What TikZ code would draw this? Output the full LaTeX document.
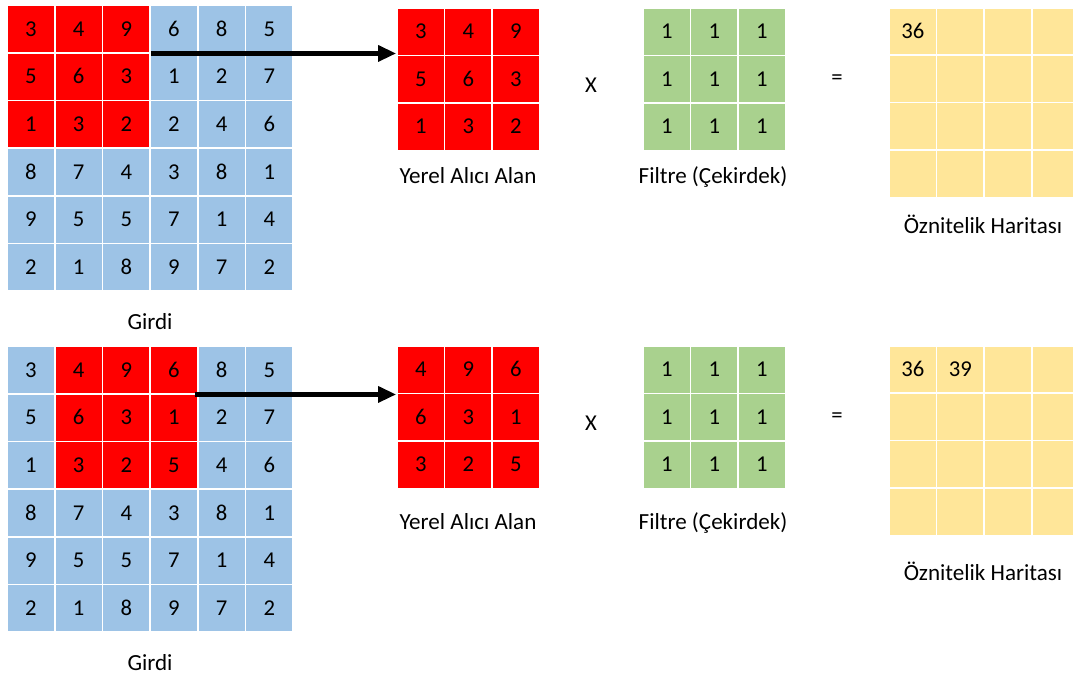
\documentclass[tikz,border=0pt]{standalone}
\usepackage{fontspec}
\setmainfont{Carlito}
\usetikzlibrary{arrows.meta}
\definecolor{cblue}{HTML}{9DC3E6}
\definecolor{cred}{HTML}{FF0000}
\definecolor{cgreen}{HTML}{A9D18E}
\definecolor{cyellow}{HTML}{FFE699}
\tikzset{
  cell/.style={draw=white, line width=1.2pt, minimum width=35.7pt, minimum height=35.7pt,
    inner sep=0pt, anchor=center, text height=10.8pt, text depth=0pt, font=\fontsize{17}{20}\selectfont},
  lbl/.style={anchor=base, inner sep=0pt, font=\fontsize{17.3}{20}\selectfont},
  op/.style={anchor=center, inner sep=0pt, font=\fontsize{17}{20}\selectfont},
  num/.style={anchor=center, inner sep=0pt, text height=10.8pt, text depth=0pt, font=\fontsize{17}{20}\selectfont},
  arr/.style={line width=3.2pt, -{Triangle[length=13.5pt,width=11.7pt]}},
}
\begin{document}
\begin{tikzpicture}[x=0.75pt,y=-0.75pt]
\useasboundingbox (0,0) rectangle (1073,679);
\clip (0,0) rectangle (1073,679);
% ---------- top row ----------
% input grid
\foreach \line [count=\r from 0] in {{3,4,9,6,8,5},{5,6,3,1,2,7},{1,3,2,2,4,6},{8,7,4,3,8,1},{9,5,5,7,1,4},{2,1,8,9,7,2}}{
  \foreach \v [count=\c from 0] in \line {
    \pgfmathtruncatemacro\isred{(\r<3)&&(\c<3)}
    \ifnum\isred=1 \def\fc{cred}\else\def\fc{cblue}\fi
    \node[cell, fill=\fc] (a-\r-\c) at ({7+47.7*(\c+0.5)},{5+47.7*(\r+0.5)}) {\v};
  }
}
% receptive field
\foreach \line [count=\r from 0] in {{3,4,9},{5,6,3},{1,3,2}}{
  \foreach \v [count=\c from 0] in \line {
    \node[cell, fill=cred] (ra-\r-\c) at ({397+47.5*(\c+0.5)},{8+47.5*(\r+0.5)}) {\v};
  }
}
% filter
\foreach \r in {0,1,2}{
  \foreach \c in {0,1,2}{
    \node[cell, fill=cgreen] (fa-\r-\c) at ({643+47.5*(\c+0.5)},{8+47.5*(\r+0.5)}) {1};
  }
}
% feature map
\foreach \r in {0,1,2,3}{
  \foreach \c in {0,1,2,3}{
    \node[cell, fill=cyellow] (ma-\r-\c) at ({889+47.6*(\c+0.5)},{8+47.3*(\r+0.5)}) {};
  }
}
\node[num] (va) at (ma-0-0) {36};
\draw[arr] (a-0-2.south east) -- (a-0-2.south east -| ra-0-0.west);
\node[lbl] (ga) at (150,329) {Girdi};
\node[lbl] (la) at (468,183) {Yerel Alıcı Alan};
\node[lbl] (lfa) at (713,183) {Filtre (Çekirdek)};
\node[lbl] (lma) at (983,233) {Öznitelik Haritası};
\node[op] (xa) at (591,85) {X};
\node[op] (ea) at (837,80) {=};
% ---------- bottom row ----------
\foreach \line [count=\r from 0] in {{3,4,9,6,8,5},{5,6,3,1,2,7},{1,3,2,5,4,6},{8,7,4,3,8,1},{9,5,5,7,1,4},{2,1,8,9,7,2}}{
  \foreach \v [count=\c from 0] in \line {
    \pgfmathtruncatemacro\isred{(\r<3)&&(\c>0)&&(\c<4)}
    \ifnum\isred=1 \def\fc{cred}\else\def\fc{cblue}\fi
    \node[cell, fill=\fc] (b-\r-\c) at ({7+47.7*(\c+0.5)},{346+47.7*(\r+0.5)}) {\v};
  }
}
\foreach \line [count=\r from 0] in {{4,9,6},{6,3,1},{3,2,5}}{
  \foreach \v [count=\c from 0] in \line {
    \node[cell, fill=cred] (rb-\r-\c) at ({397+47.5*(\c+0.5)},{346+47.5*(\r+0.5)}) {\v};
  }
}
\foreach \r in {0,1,2}{
  \foreach \c in {0,1,2}{
    \node[cell, fill=cgreen] (fb-\r-\c) at ({643+47.5*(\c+0.5)},{346+47.5*(\r+0.5)}) {1};
  }
}
\foreach \r in {0,1,2,3}{
  \foreach \c in {0,1,2,3}{
    \node[cell, fill=cyellow] (mb-\r-\c) at ({889+47.6*(\c+0.5)},{346+47.3*(\r+0.5)}) {};
  }
}
\node[num] (vb1) at (mb-0-0) {36};
\node[num] (vb2) at (mb-0-1) {39};
\draw[arr] ([xshift=-3pt]b-0-3.south east) -- (b-0-3.south east -| rb-0-0.west);
\node[lbl] (gb) at (150,670) {Girdi};
\node[lbl] (lb) at (468,529) {Yerel Alıcı Alan};
\node[lbl] (lfb) at (713,529) {Filtre (Çekirdek)};
\node[lbl] (lmb) at (983,580) {Öznitelik Haritası};
\node[op] (xb) at (591,423) {X};
\node[op] (eb) at (837,418) {=};
\end{tikzpicture}
\end{document}
